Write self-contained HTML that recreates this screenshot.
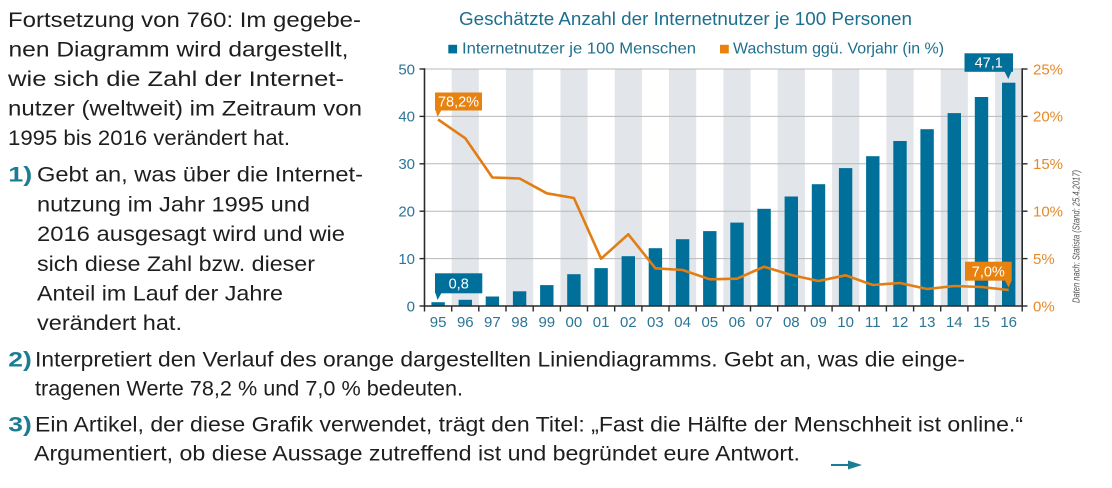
<!DOCTYPE html>
<html>
<head>
<meta charset="utf-8">
<style>
  html,body{margin:0;padding:0;background:#fff;}
  body{width:1112px;height:488px;overflow:hidden;}
  svg{display:block;}
  .t{font-family:"Liberation Sans",sans-serif;font-size:21px;fill:#1f1d1e;}
  .n{font-family:"Liberation Sans",sans-serif;font-size:21px;fill:#1a7d92;font-weight:bold;}
  .ax{font-family:"Liberation Sans",sans-serif;font-size:15px;fill:#2b7595;}
  .ar{font-family:"Liberation Sans",sans-serif;font-size:15px;fill:#e48a2c;}
  .bx{font-family:"Liberation Sans",sans-serif;font-size:14.5px;fill:#fff;}
</style>
</head>
<body>
<svg width="1112" height="488" viewBox="0 0 1112 488" xmlns="http://www.w3.org/2000/svg">
  <rect x="0" y="0" width="1112" height="488" fill="#fff"/>

  <!-- Left text block -->
  <text class="t" x="8" y="27" textLength="353" lengthAdjust="spacingAndGlyphs">Fortsetzung von 760: Im gegebe-</text>
  <text class="t" x="8.5" y="56.5" textLength="340" lengthAdjust="spacingAndGlyphs">nen Diagramm wird dargestellt,</text>
  <text class="t" x="8" y="86" textLength="336" lengthAdjust="spacingAndGlyphs">wie sich die Zahl der Internet-</text>
  <text class="t" x="8" y="115.5" textLength="354" lengthAdjust="spacingAndGlyphs">nutzer (weltweit) im Zeitraum von</text>
  <text class="t" x="8" y="145" textLength="282" lengthAdjust="spacingAndGlyphs">1995 bis 2016 verändert hat.</text>

  <text class="n" x="8.3" y="181.7" textLength="24" lengthAdjust="spacingAndGlyphs">1)</text>
  <text class="t" x="37" y="181.7" textLength="326" lengthAdjust="spacingAndGlyphs">Gebt an, was über die Internet-</text>
  <text class="t" x="37" y="211.5" textLength="273" lengthAdjust="spacingAndGlyphs">nutzung im Jahr 1995 und</text>
  <text class="t" x="37" y="241.2" textLength="308" lengthAdjust="spacingAndGlyphs">2016 ausgesagt wird und wie</text>
  <text class="t" x="37" y="271" textLength="278" lengthAdjust="spacingAndGlyphs">sich diese Zahl bzw. dieser</text>
  <text class="t" x="37" y="300.6" textLength="246" lengthAdjust="spacingAndGlyphs">Anteil im Lauf der Jahre</text>
  <text class="t" x="37" y="330.2" textLength="145" lengthAdjust="spacingAndGlyphs">verändert hat.</text>

  <!-- Bottom text -->
  <text class="n" x="8.3" y="366.5" textLength="23.5" lengthAdjust="spacingAndGlyphs">2)</text>
  <text class="t" x="35" y="366.5" textLength="930" lengthAdjust="spacingAndGlyphs">Interpretiert den Verlauf des orange dargestellten Liniendiagramms. Gebt an, was die einge-</text>
  <text class="t" x="35" y="395.5" textLength="428" lengthAdjust="spacingAndGlyphs">tragenen Werte 78,2 % und 7,0 % bedeuten.</text>
  <text class="n" x="8.3" y="431.7" textLength="23.5" lengthAdjust="spacingAndGlyphs">3)</text>
  <text class="t" x="35" y="431.7" textLength="988" lengthAdjust="spacingAndGlyphs">Ein Artikel, der diese Grafik verwendet, trägt den Titel: „Fast die Hälfte der Menschheit ist online.“</text>
  <text class="t" x="34" y="460.5" textLength="766" lengthAdjust="spacingAndGlyphs">Argumentiert, ob diese Aussage zutreffend ist und begründet eure Antwort.</text>

  <!-- arrow -->
  <line x1="831" y1="465" x2="850" y2="465" stroke="#1a7d92" stroke-width="2"/>
  <polygon points="848,460.5 862,465 848,469.5" fill="#1a7d92"/>

  <!-- Chart title & legend -->
  <text x="459" y="25" font-family="Liberation Sans, sans-serif" font-size="18" fill="#1d6f8e" textLength="453" lengthAdjust="spacingAndGlyphs">Geschätzte Anzahl der Internetnutzer je 100 Personen</text>
  <rect x="448.3" y="44.8" width="8.8" height="8.6" fill="#00709a"/>
  <text x="462" y="53.3" font-family="Liberation Sans, sans-serif" font-size="16" fill="#1d6f8e" textLength="234" lengthAdjust="spacingAndGlyphs">Internetnutzer je 100 Menschen</text>
  <rect x="720" y="44.8" width="8.8" height="8.6" fill="#e8820f"/>
  <text x="733" y="53.3" font-family="Liberation Sans, sans-serif" font-size="16" fill="#1d6f8e" textLength="211" lengthAdjust="spacingAndGlyphs">Wachstum ggü. Vorjahr (in %)</text>

  <!-- Gray bands (odd categories) -->
  <g fill="#e2e5e9">
    <rect x="451.7" y="69" width="27.17" height="237"/>
    <rect x="506.0" y="69" width="27.17" height="237"/>
    <rect x="560.4" y="69" width="27.17" height="237"/>
    <rect x="614.7" y="69" width="27.17" height="237"/>
    <rect x="669.0" y="69" width="27.17" height="237"/>
    <rect x="723.4" y="69" width="27.17" height="237"/>
    <rect x="777.7" y="69" width="27.17" height="237"/>
    <rect x="832.1" y="69" width="27.17" height="237"/>
    <rect x="886.4" y="69" width="27.17" height="237"/>
    <rect x="940.7" y="69" width="27.17" height="237"/>
    <rect x="995.1" y="69" width="27.17" height="237"/>
  </g>

  <!-- Gridlines -->
  <g stroke="#b8b8b8" stroke-width="1">
    <line x1="424.5" y1="69" x2="1022.2" y2="69"/>
    <line x1="424.5" y1="116.4" x2="1022.2" y2="116.4"/>
    <line x1="424.5" y1="163.8" x2="1022.2" y2="163.8"/>
    <line x1="424.5" y1="211.2" x2="1022.2" y2="211.2"/>
    <line x1="424.5" y1="258.6" x2="1022.2" y2="258.6"/>
  </g>

  <!-- Bars -->
  <g fill="#00709a">
    <rect x="431.4" y="302.2" width="13.4" height="3.8"/>
    <rect x="458.6" y="299.8" width="13.4" height="6.2"/>
    <rect x="485.7" y="296.5" width="13.4" height="9.5"/>
    <rect x="512.9" y="291.3" width="13.4" height="14.7"/>
    <rect x="540.1" y="285.1" width="13.4" height="20.9"/>
    <rect x="567.2" y="274.2" width="13.4" height="31.8"/>
    <rect x="594.4" y="268.1" width="13.4" height="37.9"/>
    <rect x="621.6" y="256.2" width="13.4" height="49.8"/>
    <rect x="648.7" y="248.2" width="13.4" height="57.8"/>
    <rect x="675.9" y="239.2" width="13.4" height="66.8"/>
    <rect x="703.1" y="231.1" width="13.4" height="74.9"/>
    <rect x="730.3" y="222.6" width="13.4" height="83.4"/>
    <rect x="757.4" y="208.8" width="13.4" height="97.2"/>
    <rect x="784.6" y="196.5" width="13.4" height="109.5"/>
    <rect x="811.8" y="184.2" width="13.4" height="121.8"/>
    <rect x="838.9" y="168.1" width="13.4" height="137.9"/>
    <rect x="866.1" y="156.2" width="13.4" height="149.8"/>
    <rect x="893.3" y="141.0" width="13.4" height="165.0"/>
    <rect x="920.4" y="129.2" width="13.4" height="176.8"/>
    <rect x="947.6" y="113.1" width="13.4" height="192.9"/>
    <rect x="974.8" y="97.0" width="13.4" height="209.0"/>
    <rect x="1002.0" y="82.7" width="13.4" height="223.3"/>
  </g>

  <!-- Orange line -->
  <polyline fill="none" stroke="#e27d14" stroke-width="2.6" stroke-linejoin="round"
    points="438.1,119.5 465.3,138.3 492.4,177.5 519.6,178.5 546.8,193.3 573.9,198 601.1,258.7 628.3,234.3 655.4,268.3 682.6,270 709.8,279.3 737,278.7 764.1,266.7 791.3,275 818.5,281 845.6,275.3 872.8,285 900,283 927.1,289 954.3,286 981.5,287 1008.7,290"/>

  <!-- Axes -->
  <g stroke="#2a2a2a" stroke-width="1.6" fill="none">
    <line x1="424.5" y1="68.3" x2="424.5" y2="306.8"/>
    <line x1="1022.2" y1="68.3" x2="1022.2" y2="306.8"/>
    <line x1="423.7" y1="306" x2="1023" y2="306"/>
  </g>
  <g stroke="#2a2a2a" stroke-width="1.4">
    <line x1="419.5" y1="69" x2="424.5" y2="69"/>
    <line x1="419.5" y1="116.4" x2="424.5" y2="116.4"/>
    <line x1="419.5" y1="163.8" x2="424.5" y2="163.8"/>
    <line x1="419.5" y1="211.2" x2="424.5" y2="211.2"/>
    <line x1="419.5" y1="258.6" x2="424.5" y2="258.6"/>
    <line x1="419.5" y1="306" x2="424.5" y2="306"/>
    <line x1="1022.2" y1="69" x2="1027.5" y2="69"/>
    <line x1="1022.2" y1="116.4" x2="1027.5" y2="116.4"/>
    <line x1="1022.2" y1="163.8" x2="1027.5" y2="163.8"/>
    <line x1="1022.2" y1="211.2" x2="1027.5" y2="211.2"/>
    <line x1="1022.2" y1="258.6" x2="1027.5" y2="258.6"/>
    <line x1="1022.2" y1="306" x2="1027.5" y2="306"/>
    <line x1="424.5" y1="306" x2="424.5" y2="311.5"/>
    <line x1="451.7" y1="306" x2="451.7" y2="311.5"/>
    <line x1="478.8" y1="306" x2="478.8" y2="311.5"/>
    <line x1="506.0" y1="306" x2="506.0" y2="311.5"/>
    <line x1="533.2" y1="306" x2="533.2" y2="311.5"/>
    <line x1="560.4" y1="306" x2="560.4" y2="311.5"/>
    <line x1="587.5" y1="306" x2="587.5" y2="311.5"/>
    <line x1="614.7" y1="306" x2="614.7" y2="311.5"/>
    <line x1="641.9" y1="306" x2="641.9" y2="311.5"/>
    <line x1="669.0" y1="306" x2="669.0" y2="311.5"/>
    <line x1="696.2" y1="306" x2="696.2" y2="311.5"/>
    <line x1="723.4" y1="306" x2="723.4" y2="311.5"/>
    <line x1="750.5" y1="306" x2="750.5" y2="311.5"/>
    <line x1="777.7" y1="306" x2="777.7" y2="311.5"/>
    <line x1="804.9" y1="306" x2="804.9" y2="311.5"/>
    <line x1="832.1" y1="306" x2="832.1" y2="311.5"/>
    <line x1="859.2" y1="306" x2="859.2" y2="311.5"/>
    <line x1="886.4" y1="306" x2="886.4" y2="311.5"/>
    <line x1="913.6" y1="306" x2="913.6" y2="311.5"/>
    <line x1="940.7" y1="306" x2="940.7" y2="311.5"/>
    <line x1="967.9" y1="306" x2="967.9" y2="311.5"/>
    <line x1="995.1" y1="306" x2="995.1" y2="311.5"/>
    <line x1="1022.2" y1="306" x2="1022.2" y2="311.5"/>
  </g>

  <!-- Left axis labels -->
  <g class="ax" text-anchor="end">
    <text x="415" y="74.3">50</text>
    <text x="415" y="121.7">40</text>
    <text x="415" y="169.1">30</text>
    <text x="415" y="216.5">20</text>
    <text x="415" y="263.9">10</text>
    <text x="415" y="311.3">0</text>
  </g>

  <!-- Right axis labels -->
  <g class="ar">
    <text x="1033" y="74.3">25%</text>
    <text x="1033" y="121.7">20%</text>
    <text x="1033" y="169.1">15%</text>
    <text x="1033" y="216.5">10%</text>
    <text x="1033" y="263.9">5%</text>
    <text x="1033" y="311.3">0%</text>
  </g>

  <!-- X labels -->
  <g class="ax" text-anchor="middle">
    <text x="438.1" y="327">95</text>
    <text x="465.3" y="327">96</text>
    <text x="492.4" y="327">97</text>
    <text x="519.6" y="327">98</text>
    <text x="546.8" y="327">99</text>
    <text x="573.9" y="327">00</text>
    <text x="601.1" y="327">01</text>
    <text x="628.3" y="327">02</text>
    <text x="655.4" y="327">03</text>
    <text x="682.6" y="327">04</text>
    <text x="709.8" y="327">05</text>
    <text x="737.0" y="327">06</text>
    <text x="764.1" y="327">07</text>
    <text x="791.3" y="327">08</text>
    <text x="818.5" y="327">09</text>
    <text x="845.6" y="327">10</text>
    <text x="872.8" y="327">11</text>
    <text x="900.0" y="327">12</text>
    <text x="927.1" y="327">13</text>
    <text x="954.3" y="327">14</text>
    <text x="981.5" y="327">15</text>
    <text x="1008.7" y="327">16</text>
  </g>

  <!-- Callouts -->
  <rect x="435" y="92.5" width="47" height="18" fill="#e8820f"/>
  <polygon points="435.5,110 441.5,110 437.5,117" fill="#e8820f"/>
  <text class="bx" x="458.5" y="106.5" text-anchor="middle">78,2%</text>

  <rect x="435" y="273.3" width="47.3" height="20" fill="#00709a"/>
  <polygon points="435.5,293 441.5,293 437.5,300" fill="#00709a"/>
  <text class="bx" x="458.7" y="288.5" text-anchor="middle">0,8</text>

  <rect x="964.5" y="53.3" width="48.5" height="18.5" fill="#00709a"/>
  <polygon points="1004.5,71.5 1011.5,71.5 1008.3,79" fill="#00709a"/>
  <text class="bx" x="988.7" y="67.5" text-anchor="middle">47,1</text>

  <rect x="965" y="261.7" width="46.7" height="19" fill="#e8820f"/>
  <polygon points="1005,280.5 1011.7,280.5 1008.5,287.5" fill="#e8820f"/>
  <text class="bx" x="988.3" y="276.3" text-anchor="middle">7,0%</text>

  <!-- Source -->
  <text transform="translate(1079.5,303) rotate(-90)" font-family="Liberation Sans, sans-serif" font-size="10" font-style="italic" fill="#555" textLength="133" lengthAdjust="spacingAndGlyphs">Daten nach: Statista (Stand: 25.4.2017)</text>
</svg>
</body>
</html>
